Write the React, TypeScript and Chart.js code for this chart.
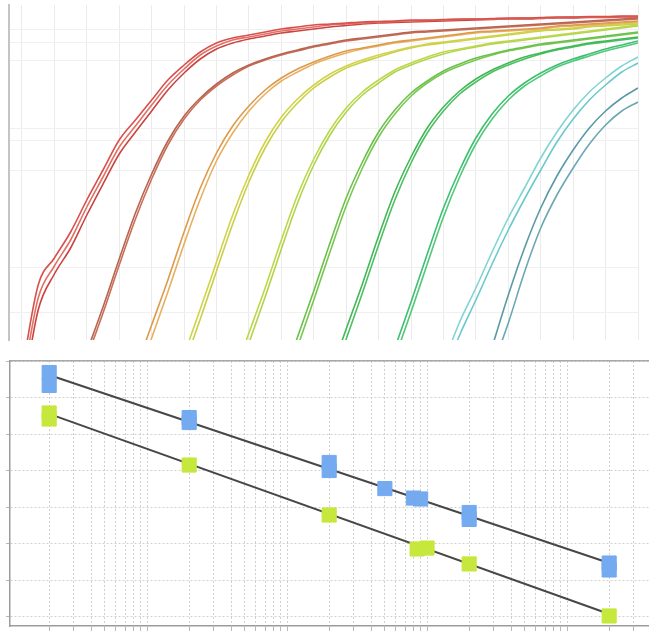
import React, { useEffect, useRef } from "react";
import { Chart, registerables } from "chart.js";

Chart.register(...registerables);

// ---------- Amplification plot (top) ----------
// Fluorescence readings per cycle; each replicate starts at the cycle given next to it.
const g1a = [-31, 55, 82, 108, 140, 170, 200, 220, 240, 260, 275, 288, 297, 302, 305, 308, 311, 313, 315, 316, 317, 318, 318.5, 319, 320, 320, 320.5, 321, 321, 321.5, 322, 322, 322.5, 323, 323, 323.5, 323.5, 324, 324];
const g1b = [-45, 42, 74, 100, 133, 163, 193, 214, 235, 255, 271, 285, 294, 300, 303, 306, 309, 311, 313, 315, 316, 317, 318, 318.5, 319, 319.5, 320, 320.5, 321, 321, 321.5, 322, 322, 322.5, 323, 323, 323, 323.5, 323.5];
const g1c = [-60, 30, 66, 92, 125, 156, 186, 208, 229, 250, 267, 281, 291, 297, 301, 304, 307, 309, 311, 313, 314.5, 316, 317, 317.5, 318, 318.5, 319, 319.5, 320, 320.5, 321, 321, 321.5, 322, 322, 322.5, 322.5, 323, 323];
const g2a = [-12, 33, 81, 127, 166, 199, 224, 242, 256, 267, 275, 281, 286, 290, 294, 297, 300, 302, 304, 306, 308, 309, 310, 311, 312, 313, 314, 315, 316, 317, 318, 319, 320, 321, 322];
const g2b = [-18, 27, 75, 121, 161, 195, 221, 240, 254, 265, 274, 280, 285, 289, 293, 296, 299, 301, 303, 305, 307, 308, 309, 310, 311, 312, 313, 314, 315, 316, 317, 318, 319, 320, 321];
const g3a = [-30, 15, 60, 108, 152, 187, 214, 234, 250, 262, 271, 278, 284, 289, 292, 295, 298, 300, 302, 304, 306, 308, 309, 310, 311, 312, 314, 315, 316, 317, 318, 319];
const g3b = [-42, 2, 48, 96, 141, 179, 207, 229, 246, 259, 268, 276, 282, 287, 291, 294, 297, 299, 301, 303, 305, 307, 308, 309, 310, 311, 313, 314, 315, 316, 317, 318];
const g4a = [-15, 31, 78, 125, 165, 198, 223, 241, 255, 266, 274, 280, 285, 289, 293, 296, 298, 300, 302, 304, 306, 308, 310, 311, 312, 314, 315, 316, 317];
const g4b = [-25, 21, 69, 116, 158, 192, 218, 237, 252, 263, 272, 278, 283, 288, 292, 295, 297, 299, 301, 303, 305, 307, 309, 310, 311, 313, 314, 315, 316];
const g5a = [-38, 7, 52, 100, 145, 181, 210, 232, 248, 260, 270, 277, 283, 288, 291, 294, 297, 299, 301, 303, 305, 307, 309, 311, 313, 315];
const g5b = [-48, -3, 43, 91, 137, 175, 205, 228, 245, 257, 268, 275, 281, 286, 290, 293, 296, 298, 300, 302, 304, 306, 308, 310, 312, 314];
const g6a = [-42, 3, 49, 97, 142, 178, 208, 230, 247, 259, 269, 276, 282, 286, 290, 293, 296, 298, 300, 302, 304, 306, 308];
const g6b = [-52, -7, 40, 88, 134, 172, 203, 226, 244, 257, 267, 274, 280, 285, 289, 292, 295, 297, 299, 301, 303, 305, 307];
const g7a = [-35, 11, 56, 104, 148, 183, 212, 233, 249, 261, 270, 277, 283, 287, 291, 294, 297, 299, 301, 303];
const g7b = [-45, 1, 47, 95, 140, 177, 207, 229, 246, 258, 268, 275, 281, 286, 290, 293, 296, 298, 300, 302];
const g8a = [-8, 38, 86, 132, 170, 202, 226, 244, 257, 267, 275, 281, 286, 291, 295, 299];
const g8b = [-18, 28, 76, 123, 163, 196, 221, 240, 254, 264, 273, 279, 284, 289, 293, 297];
const g9a = [-23, 18, 52, 88, 122, 152, 182, 208, 230, 248, 262, 274, 283];
const g9b = [-35, 5, 40, 76, 110, 141, 170, 198, 221, 240, 255, 268, 277];
const g10a = [-7, 45, 92, 132, 164, 190, 212, 229, 242, 252];
const g10b = [-28, 17, 68, 112, 145, 172, 196, 215, 229, 238];

const ampSeries: [number[], number, string][] = [
  [g1a, 2, "#d8504a"], [g1b, 2, "#e2706a"], [g1c, 2, "#c94640"],
  [g2a, 6, "#b86450"], [g2b, 6, "#c87058"],
  [g3a, 9, "#dd9a4c"], [g3b, 9, "#e6b060"],
  [g4a, 12, "#d2d24a"], [g4b, 12, "#c8d048"],
  [g5a, 15, "#bcd848"], [g5b, 15, "#b0d44c"],
  [g6a, 18, "#6cc04c"], [g6b, 18, "#78c850"],
  [g7a, 21, "#40b858"], [g7b, 21, "#4cc060"],
  [g8a, 25, "#3cc070"], [g8b, 25, "#52c87a"],
  [g9a, 28, "#80d4d4"], [g9b, 28, "#6cc8cc"],
  [g10a, 31, "#5a9aa6"], [g10b, 31, "#6aa8b2"],
];

const cycleGrid = [2, 4, 6, 8, 10, 12, 14, 16, 18, 20, 22, 24, 26, 28, 30, 32, 34, 36, 38, 40];
const fluorGrid = [28, 73, 170, 200, 212, 280, 297, 310];

// ---------- Standard curve (bottom) ----------
const blueQty = [2, 2, 20, 20, 200, 200, 500, 800, 900, 2000, 2000, 20000, 20000];
const blueCt = [31.37, 30.66, 28.9, 28.63, 26.44, 26.0, 25.01, 24.49, 24.44, 23.7, 23.32, 20.93, 20.55];
const greenQty = [2, 2, 20, 200, 850, 1000, 2000, 20000];
const greenCt = [29.15, 28.82, 26.3, 23.56, 21.7, 21.75, 20.88, 18.03];
const blueFitQty = [2, 20000];
const blueFitCt = [31.23, 20.93];
const greenFitQty = [2, 20000];
const greenFitCt = [29.1, 18.14];
const ctGrid = [18, 20, 22, 24, 26, 28, 30, 32];
const qtyGrid = [
  2, 3, 4, 5, 6, 7, 8, 9,
  10, 20, 30, 40, 50, 60, 70, 80, 90,
  100, 200, 300, 400, 500, 600, 700, 800, 900,
  1000, 2000, 3000, 4000, 5000, 6000, 7000, 8000, 9000,
  10000, 20000, 30000, 40000, 50000, 60000, 70000, 80000,
];

const pts = (xs: number[], ys: number[]) => xs.map((x, i) => ({ x, y: ys[i] }));

function AmpChart() {
  const ref = useRef<HTMLCanvasElement | null>(null);
  useEffect(() => {
    if (!ref.current) return;
    const chart = new Chart(ref.current, {
      type: "line",
      data: {
        datasets: ampSeries.map(([vals, start, color]) => ({
          data: vals.map((v, i) => ({ x: start + i, y: v })),
          borderColor: color,
          borderWidth: 1.6,
          pointRadius: 0,
          fill: false,
          cubicInterpolationMode: "monotone" as const,
        })),
      },
      options: {
        responsive: false,
        animation: false,
        events: [],
        layout: { padding: { left: 9, right: 11, top: 5, bottom: 5 }, autoPadding: false },
        plugins: { legend: { display: false }, tooltip: { enabled: false } },
        scales: {
          x: {
            type: "linear",
            min: 1.2,
            max: 40,
            afterBuildTicks: (s: any) => { s.ticks = cycleGrid.map((v) => ({ value: v })); },
            ticks: { display: false },
            grid: { color: "#ebebeb", drawTicks: false },
            border: { display: false },
          },
          y: {
            type: "linear",
            min: 0,
            max: 335,
            afterBuildTicks: (s: any) => { s.ticks = fluorGrid.map((v) => ({ value: v })); },
            ticks: { display: false },
            grid: { color: "#f0f0f0", drawTicks: false },
            border: { display: true, color: "#c4c4c4", width: 2 },
          },
        },
      },
    } as any);
    return () => chart.destroy();
  }, []);
  return <canvas ref={ref} width={649} height={345} style={{ display: "block" }} />;
}

function StdChart() {
  const ref = useRef<HTMLCanvasElement | null>(null);
  useEffect(() => {
    if (!ref.current) return;
    const chart = new Chart(ref.current, {
      type: "scatter",
      data: {
        datasets: [
          {
            data: pts(blueQty, blueCt),
            pointStyle: "rect",
            pointRadius: 10,
            backgroundColor: "#74aaf0",
            borderColor: "#74aaf0",
            borderWidth: 1,
            showLine: false,
          },
          {
            data: pts(greenQty, greenCt),
            pointStyle: "rect",
            pointRadius: 10,
            backgroundColor: "#c6e83c",
            borderColor: "#c6e83c",
            borderWidth: 1,
            showLine: false,
          },
          {
            data: pts(blueFitQty, blueFitCt),
            showLine: true,
            pointRadius: 0,
            borderColor: "#474747",
            borderWidth: 2,
          },
          {
            data: pts(greenFitQty, greenFitCt),
            showLine: true,
            pointRadius: 0,
            borderColor: "#474747",
            borderWidth: 2,
          },
        ],
      },
      options: {
        responsive: false,
        animation: false,
        events: [],
        layout: { padding: { left: 6, right: 0, top: 11, bottom: 1 }, autoPadding: false },
        plugins: { legend: { display: false }, tooltip: { enabled: false } },
        scales: {
          x: {
            type: "logarithmic",
            min: 1.05,
            max: 89100,
            afterBuildTicks: (s: any) => { s.ticks = qtyGrid.map((v) => ({ value: v })); },
            ticks: { display: false },
            grid: { color: "#d0d0d0", tickLength: 5, tickColor: "#b8b8b8", tickBorderDash: [] },
            border: { display: true, color: "#9c9c9c", width: 1.5, dash: [2, 2] },
          },
          xTop: {
            type: "linear",
            position: "top",
            min: 0,
            max: 1,
            ticks: { display: false },
            grid: { display: false, drawTicks: false },
            border: { display: true, color: "#a8a8a8", width: 1.5 },
          },
          y: {
            type: "linear",
            min: 17.48,
            max: 32,
            afterBuildTicks: (s: any) => { s.ticks = ctGrid.map((v) => ({ value: v })); },
            ticks: { display: false },
            grid: { color: "#d0d0d0", tickLength: 4, tickColor: "#b8b8b8", tickBorderDash: [] },
            border: { display: true, color: "#9c9c9c", width: 1.5, dash: [2, 2] },
          },
        },
      },
    } as any);
    return () => chart.destroy();
  }, []);
  return <canvas ref={ref} width={700} height={282} style={{ display: "block" }} />;
}

export default function App() {
  return (
    <div style={{ position: "absolute", left: 0, top: 0, width: 649, height: 632, background: "#ffffff", overflow: "hidden" }}>
      <div style={{ position: "absolute", left: 0, top: 0 }}>
        <AmpChart />
      </div>
      <div style={{ position: "absolute", left: 0, top: 350 }}>
        <StdChart />
      </div>
    </div>
  );
}
